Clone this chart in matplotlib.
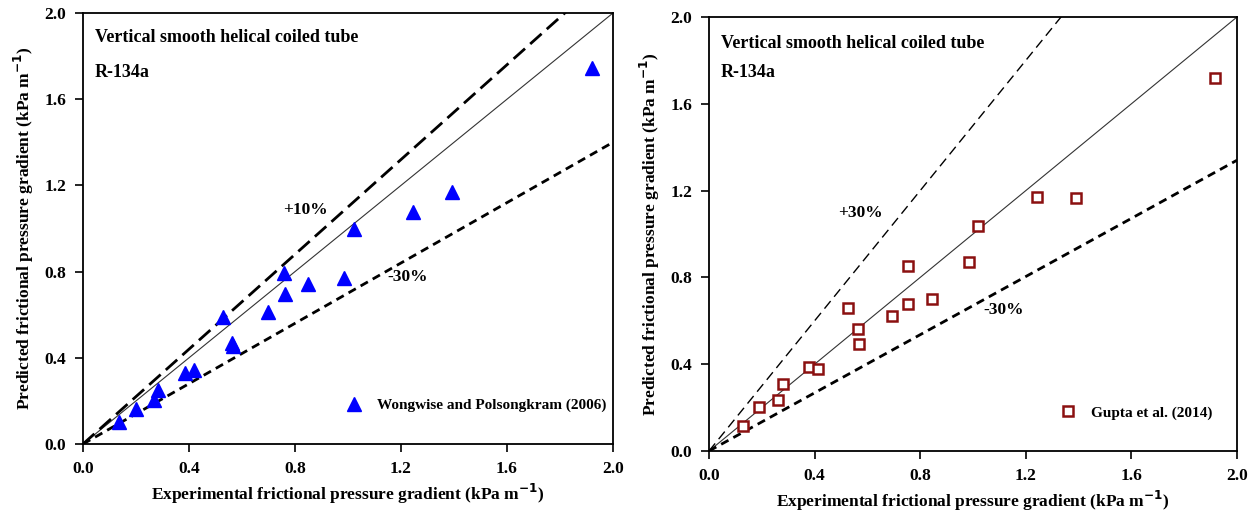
import matplotlib
matplotlib.use("Agg")
import matplotlib.pyplot as plt
import numpy as np

plt.rcParams['font.family'] = ['Liberation Serif', 'DejaVu Serif']
plt.rcParams['font.weight'] = 'bold'

# ---- data ----
left_exp = [0.136, 0.199, 0.268, 0.283, 0.385, 0.420, 0.530, 0.561, 0.567, 0.699,
            0.758, 0.763, 0.848, 0.986, 1.021, 1.244, 1.391, 1.922]
left_pred = [0.101, 0.162, 0.204, 0.251, 0.331, 0.343, 0.591, 0.470, 0.455, 0.611,
             0.792, 0.696, 0.741, 0.769, 1.000, 1.077, 1.171, 1.743]

right_exp = [0.130, 0.190, 0.260, 0.279, 0.378, 0.414, 0.525, 0.563, 0.568, 0.694,
             0.754, 0.754, 0.843, 0.983, 1.019, 1.243, 1.389, 1.918]
right_pred = [0.115, 0.201, 0.235, 0.309, 0.389, 0.378, 0.657, 0.562, 0.493, 0.622,
              0.853, 0.677, 0.700, 0.872, 1.037, 1.172, 1.164, 1.720]

left_upper_slope = 1.10   # "+10%" line
left_lower_slope = 0.70   # "-30%" line
right_upper_slope = 1.50  # "+30%" line as drawn
right_lower_slope = 0.67  # "-30%" line as drawn

ticks = [0.0, 0.4, 0.8, 1.2, 1.6, 2.0]
tick_labels = ['0.0', '0.4', '0.8', '1.2', '1.6', '2.0']

title1 = 'Vertical smooth helical coiled tube'
title2 = 'R-134a'
xlabel = 'Experimental frictional pressure gradient (kPa m$^{\\mathbf{-1}}$)'
ylabel = 'Predicted frictional pressure gradient (kPa m$^{\\mathbf{-1}}$)'

fig = plt.figure(figsize=(12.57, 5.23), dpi=100)
axL = fig.add_axes([83/1257, 1-444/523, 530/1257, 431/523])
axR = fig.add_axes([709/1257, 1-451/523, 528/1257, 434/523])

xx = np.array([0.0, 2.0])

def style_axes(ax, ty1, ty2):
    ax.set_xlim(0, 2.0)
    ax.set_ylim(0, 2.0)
    ax.set_xticks(ticks)
    ax.set_yticks(ticks)
    ax.set_xticklabels(tick_labels, fontsize=12.5, fontweight='bold')
    ax.set_yticklabels(tick_labels, fontsize=12.5, fontweight='bold')
    ax.tick_params(direction='out', length=6, width=1.2, pad=6)
    for s in ax.spines.values():
        s.set_linewidth(1.3)
    ax.set_xlabel(xlabel, fontsize=12.5, fontweight='bold', labelpad=4)
    ax.set_ylabel(ylabel, fontsize=12.5, fontweight='bold', labelpad=6)
    ax.text(0.022, ty1, title1, transform=ax.transAxes, fontsize=13,
            fontweight='bold', va='center', ha='left')
    ax.text(0.022, ty2, title2, transform=ax.transAxes, fontsize=13,
            fontweight='bold', va='center', ha='left')

# Left panel
axL.plot(xx, xx, color='#333333', lw=0.8)
axL.plot(xx, left_upper_slope * xx, color='black', lw=2.0, dashes=(5.5, 2.5))
axL.plot(xx, left_lower_slope * xx, color='black', lw=2.0, dashes=(3, 2))
axL.plot(left_exp, left_pred, linestyle='none', marker='^', ms=9.5,
         color='#0000FF', label='Wongwise and Polsongkram (2006)')
axL.text(0.377, 0.543, '+10%', transform=axL.transAxes, fontsize=12.5,
         fontweight='bold', va='center')
axL.text(0.575, 0.3875, '-30%', transform=axL.transAxes, fontsize=12.5,
         fontweight='bold', va='center')
style_axes(axL, 0.944, 0.863)
axL.legend(loc='center left', bbox_to_anchor=(0.479, 0.09), frameon=False,
           handlelength=1.2, handletextpad=0.9, borderpad=0,
           prop={'weight': 'bold', 'size': 11}, numpoints=1)

# Right panel
axR.plot(xx, xx, color='#333333', lw=0.8)
axR.plot(xx, right_upper_slope * xx, color='black', lw=1.0, dashes=(7, 4))
axR.plot(xx, right_lower_slope * xx, color='black', lw=2.0, dashes=(3, 2))
axR.plot(right_exp, right_pred, linestyle='none', marker='s', ms=7.5,
         markerfacecolor='white', markeredgecolor='#8B1010', markeredgewidth=1.8,
         label='Gupta et al. (2014)')
axR.text(0.245, 0.548, '+30%', transform=axR.transAxes, fontsize=12.5,
         fontweight='bold', va='center')
axR.text(0.52, 0.325, '-30%', transform=axR.transAxes, fontsize=12.5,
         fontweight='bold', va='center')
style_axes(axR, 0.938, 0.871)
axR.legend(loc='center left', bbox_to_anchor=(0.648, 0.088), frameon=False,
           handlelength=1.2, handletextpad=0.9, borderpad=0,
           prop={'weight': 'bold', 'size': 11}, numpoints=1)

fig.savefig('out.png', dpi=100)
